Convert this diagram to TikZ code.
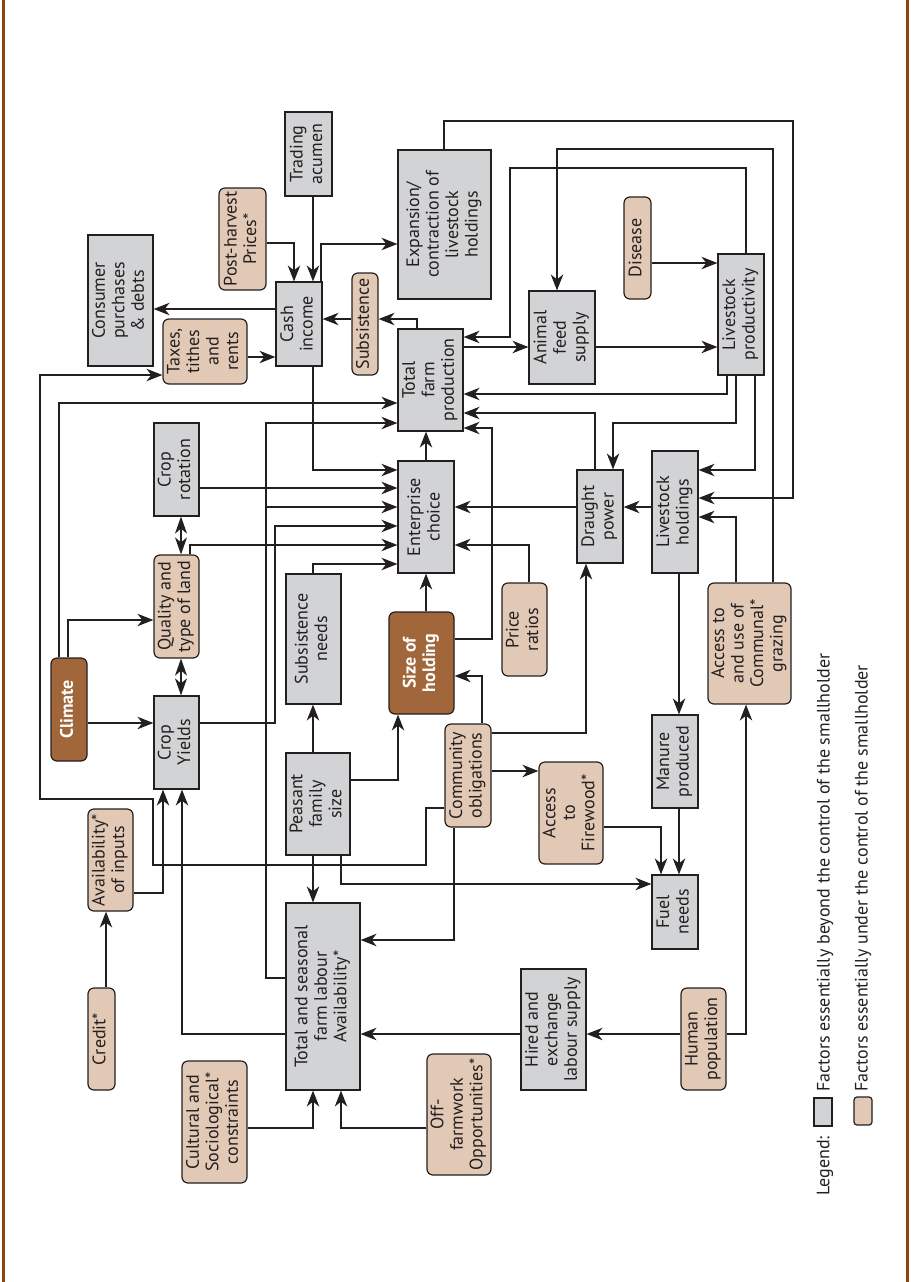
\documentclass[tikz,border=0pt]{standalone}
\usepackage{fontspec}
\setmainfont{PT Sans}
\usepackage{graphicx}
\usepackage{tikz}
\usetikzlibrary{arrows.meta}
\definecolor{boxgray}{RGB}{209,211,212}
\definecolor{boxtan}{RGB}{226,201,181}
\definecolor{boxbrown}{RGB}{161,103,58}
\definecolor{ink}{RGB}{35,31,32}
\definecolor{framebrown}{RGB}{140,70,20}
\newcommand{\rt}[1]{\rotatebox{90}{\begin{tabular}{@{}c@{}}#1\end{tabular}}}
\tikzset{
  base/.style={draw=ink, line width=1.2pt, inner sep=0pt, text=ink, font=\fontsize{18}{19.5}\selectfont},
  gbox/.style={base, fill=boxgray},
  tbox/.style={base, fill=boxtan, rounded corners=6pt},
  bbox/.style={base, fill=boxbrown, rounded corners=6pt, text=white, font=\fontsize{18}{19.5}\selectfont\bfseries},
  sz/.style 2 args={minimum width=#1pt, minimum height=#2pt},
  conn/.style={draw=ink, line width=1.1pt, -{Stealth[length=16pt,width=12.5pt,inset=5pt]}},
  dconn/.style={draw=ink, line width=1.1pt, {Stealth[length=17pt,width=12pt,inset=5pt]}-{Stealth[length=17pt,width=12pt,inset=5pt]}},
  legtext/.style={rotate=90, anchor=west, inner sep=0pt, text=ink, font=\fontsize{18}{19.5}\selectfont},
}

\begin{document}
\begin{tikzpicture}[x=1pt,y=-1pt]
\useasboundingbox (0,0) rectangle (910,1282);
\draw[framebrown, line width=3pt] (3,0) -- (3,1282);
\draw[framebrown, line width=3pt] (907,0) -- (907,1282);

% factors beyond control
\node[gbox, sz={47}{84}] (trade) at (308.5,154) {\rt{Trading\\acumen}};
\node[gbox, sz={65}{131}] (consumer) at (120.5,300.5) {\rt{Consumer\\purchases\\\& debts}};
\node[gbox, sz={46}{84}] (cash) at (299,324) {\rt{Cash\\income}};
\node[gbox, sz={93}{149}] (expand) at (444.5,224.5) {\rt{Expansion/\\contraction of\\livestock\\holdings}};
\node[gbox, sz={65}{102}] (tfp) at (430.5,380) {\rt{Total\\farm\\production}};
\node[gbox, sz={66}{93}] (feed) at (562,337.5) {\rt{Animal\\feed\\supply}};
\node[gbox, sz={46}{121}] (lprod) at (741,314.5) {\rt{Livestock\\productivity}};
\node[gbox, sz={45}{93}] (rotation) at (176.5,469.5) {\rt{Crop\\rotation}};
\node[gbox, sz={56}{112}] (enterprise) at (426,517) {\rt{Enterprise\\choice}};
\node[gbox, sz={46}{93}] (draught) at (600,516.5) {\rt{Draught\\power}};
\node[gbox, sz={46}{122}] (lhold) at (675,512) {\rt{Livestock\\holdings}};
\node[gbox, sz={55}{130}] (subneeds) at (313.5,639) {\rt{Subsistence\\needs}};
\node[gbox, sz={45}{93}] (yields) at (176.5,742.5) {\rt{Crop\\Yields}};
\node[gbox, sz={64}{102}] (peasant) at (318,804) {\rt{Peasant\\family\\size}};
\node[gbox, sz={46}{93}] (manure) at (675,761.5) {\rt{Manure\\produced}};
\node[gbox, sz={46}{74}] (fuel) at (675,912) {\rt{Fuel\\needs}};
\node[gbox, sz={74}{187}] (labour) at (323,996.5) {\rt{Total and seasonal\\farm labour\\Availability*}};
\node[gbox, sz={65}{121}] (hired) at (553.5,1029.5) {\rt{Hired and\\exchange\\labour supply}};

% factors under control
\node[tbox, sz={47}{102}] (prices) at (242.5,239) {\rt{Post-harvest\\Prices*}};
\node[tbox, sz={84}{65}] (taxes) at (205,351.5) {\rt{Taxes,\\tithes\\and\\rents}};
\node[tbox, sz={26}{102}] (subsist) at (365,324) {\rt{Subsistence}};
\node[tbox, sz={27}{102}] (disease) at (637.5,248) {\rt{Disease}};
\node[tbox, sz={45}{103}] (quality) at (176.5,606.5) {\rt{Quality and\\type of land}};
\node[tbox, sz={45}{93}] (ratios) at (524.5,629.5) {\rt{Price\\ratios}};
\node[tbox, sz={83}{121}] (grazing) at (749.5,643.5) {\rt{Access to\\and use of\\Communal*\\grazing}};
\node[tbox, sz={46}{103}] (community) at (468,775.5) {\rt{Community\\obligations}};
\node[tbox, sz={64}{102}] (firewood) at (571,813) {\rt{Access\\to\\Firewood*}};
\node[tbox, sz={45}{102}] (avail) at (110.5,860) {\rt{Availability*\\of inputs}};
\node[tbox, sz={27}{102}] (credit) at (101.5,1039) {\rt{Credit*}};
\node[tbox, sz={65}{122}] (cultural) at (214.5,1122) {\rt{Cultural and\\Sociological*\\constraints}};
\node[tbox, sz={64}{121}] (offfarm) at (459,1114.5) {\rt{Off-\\farmwork\\Opportunities*}};
\node[tbox, sz={45}{102}] (human) at (703.5,1039) {\rt{Human\\population}};

\node[bbox, sz={36}{103}] (climate) at (69,709.5) {\rt{Climate}};
\node[bbox, sz={65}{102}] (holding) at (421.5,663) {\rt{Size of\\holding}};

% connectors
\draw[conn] (prices.east |- 0,243) -| (cash.north -| 294,0);
\draw[conn] (trade.south -| 313,0) -- (cash.north -| 313,0);
\draw[conn] (cash.west |- 0,309) -- (consumer.east |- 0,309);
\draw[conn] (taxes.east |- 0,357) -- (cash.west |- 0,357);
\draw[conn] (community.west |- 0,808) -| (426,865) -| (153,799) -| (40,375) -- (taxes.west |- 0,375);
\draw[conn] (climate.north -| 59,0) |- (tfp.west |- 0,403);
\draw[conn] (cash.south -| 313,0) |- (enterprise.west |- 0,470);
\draw[conn] (rotation.east |- 0,488) -- (enterprise.west |- 0,488);
\draw[conn] (labour.west |- 0,978) -| (266,423) -- (tfp.west |- 0,423);
\coordinate (labj) at (266,507);
\draw[conn] (labj) -- (enterprise.west |- labj);
\draw[conn] (yields.east |- 0,723) -| (275,526) -- (enterprise.west |- 0,526);
\draw[conn] (quality.north -| 190,0) |- (enterprise.west |- 0,545);
\draw[conn] (subneeds.north -| 313,0) |- (enterprise.west |- 0,564);
\draw[conn] (enterprise.north) -- (tfp.south -| enterprise.north);
\draw[conn] (holding.north -| 426,0) -- (enterprise.south -| 426,0);
\draw[conn] (holding.east |- 0,639) -| (492,428) -- (tfp.east |- 0,428);
\draw[conn] (ratios.north -| 529,0) |- (enterprise.east |- 0,545);
\draw[conn] (draught.west |- 0,507) -- (enterprise.east |- 0,507);
\draw[conn] (community.east |- 0,733) -| (draught.south -| 586,0);
\draw[conn] (community.north -| 482,0) |- (holding.east |- 0,676);
\draw[conn] (lprod.south -| 736,0) |- (613,423) -- (draught.north -| 613,0);
\draw[conn] (draught.north -| 595,0) |- (tfp.east |- 0,413);
\draw[conn] (lprod.south -| 727,0) |- (tfp.east |- 0,394);
\draw[conn] (lprod.south -| 755,0) |- (lhold.east |- 0,470);
\draw[conn] (lhold.west |- 0,507) -- (draught.east |- 0,507);
\draw[conn] (expand.north -| 444,0) |- (793,121) |- (lhold.east |- 0,498);
\draw[conn] (grazing.north -| 773,0) |- (557,149) -- (feed.north -| 557,0);
\draw[conn] (grazing.north -| 736,0) |- (lhold.east |- 0,517);
\draw[conn] (lprod.north -| 746,0) |- (510,168) |- (tfp.east |- 0,337);
\draw[conn] (tfp.east |- 0,347) -- (feed.west |- 0,347);
\draw[conn] (feed.east |- 0,347) -- (lprod.west |- 0,347);
\draw[conn] (disease.east |- 0,263) -- (lprod.west |- 0,263);
\draw[conn] (tfp.north -| 417,0) |- (subsist.east |- 0,319);
\draw[conn] (subsist.west |- 0,319) -- (cash.east |- 0,319);
\draw[conn] (cash.north -| 321,0) |- (expand.west |- 0,244);
\draw[conn] (climate.east |- 0,723) -- (yields.west |- 0,723);
\draw[conn] (climate.north -| 68,0) |- (quality.west |- 0,620);
\draw[dconn] (yields.north -| 181,0) -- (quality.south -| 181,0);
\draw[dconn] (quality.north -| 181,0) -- (rotation.south -| 181,0);
\draw[conn] (avail.east |- 0,893) -| (yields.south -| 163,0);
\draw[conn] (labour.west |- 0,1034) -| (yields.south -| 182,0);
\draw[conn] (credit.north -| 106,0) -- (avail.south -| 106,0);
\draw[conn] (peasant.north -| 313,0) -- (subneeds.south -| 313,0);
\draw[conn] (peasant.east |- 0,780) -| (holding.south -| 398,0);
\draw[conn] (peasant.south -| 313,0) -- (labour.north -| 313,0);
\draw[conn] (peasant.south -| 341,0) |- (fuel.west |- 0,884);
\draw[conn] (community.east |- 0,771) -- (firewood.west |- 0,771);
\draw[conn] (community.south -| 454,0) |- (labour.east |- 0,940);
\draw[conn] (hired.west |- 0,1034) -- (labour.east |- 0,1034);
\draw[conn] (human.west |- 0,1034) -- (hired.east |- 0,1034);
\draw[conn] (human.east |- 0,1034) -| (grazing.south -| 746,0);
\draw[conn] (lhold.south -| 679,0) -- (manure.north -| 679,0);
\draw[conn] (manure.south -| 679,0) -- (fuel.north -| 679,0);
\draw[conn] (firewood.east |- 0,827) -| (fuel.north -| 661,0);
\draw[conn] (cultural.east |- 0,1128) -| (labour.south -| 313,0);
\draw[conn] (offfarm.west |- 0,1128) -| (labour.south -| 341,0);

% legend
\node[legtext] (legtitle) at (825,1196) {Legend:};
\node[gbox, sz={18}{28}] (leggray) at (823,1112) {};
\node[tbox, sz={18}{28}, rounded corners=3pt] (legtan) at (863,1111) {};
\node[legtext] (legbeyond) at (825,1092) {Factors essentially beyond the control of the smallholder};
\node[legtext] (legunder) at (863,1092) {Factors essentially under the control of the smallholder};
\end{tikzpicture}
\end{document}
